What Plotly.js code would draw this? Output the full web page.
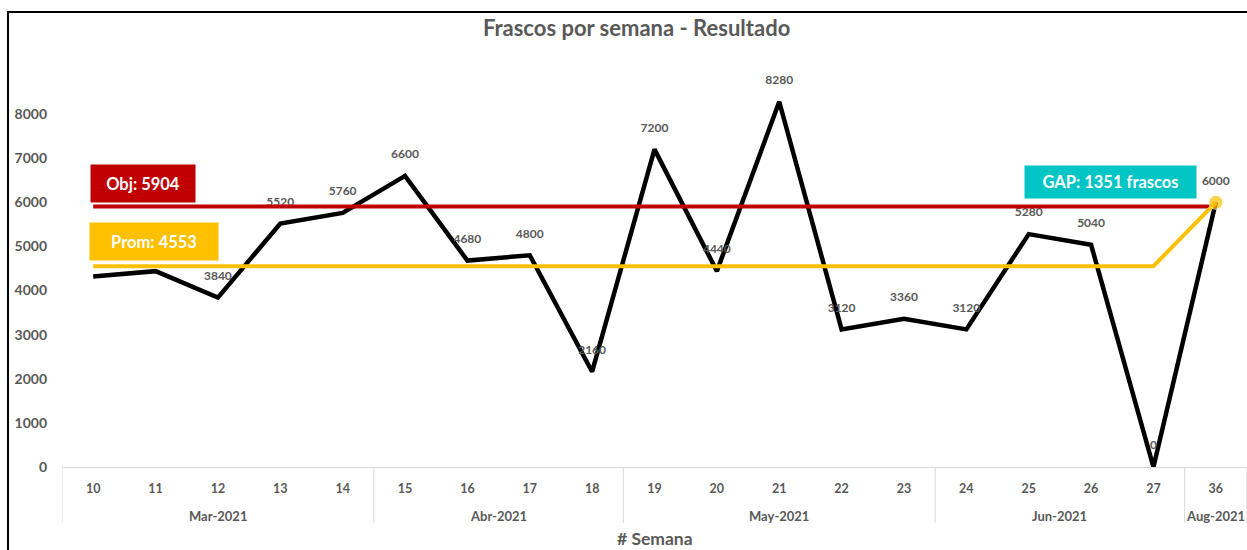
<!DOCTYPE html>
<html>
<head>
<meta charset="utf-8">
<script src="https://cdn.plot.ly/plotly-3.0.1.min.js"></script>
<style>
html,body{margin:0;padding:0;background:#fff;}
#chart{position:absolute;left:0;top:0;width:1247px;height:550px;}
#frame{position:absolute;left:7px;top:11px;width:1300px;height:600px;border-left:2px solid #000;border-top:2px solid #000;pointer-events:none;}
</style>
</head>
<body>
<div id="chart"></div>
<div id="frame"></div>
<script>
// ---- data ----
const months = ["Mar-2021","Mar-2021","Mar-2021","Mar-2021","Mar-2021",
                "Abr-2021","Abr-2021","Abr-2021","Abr-2021",
                "May-2021","May-2021","May-2021","May-2021","May-2021",
                "Jun-2021","Jun-2021","Jun-2021","Jun-2021",
                "Aug-2021"];
const weeks = ["10","11","12","13","14","15","16","17","18","19","20","21","22","23","24","25","26","27","36"];
const frascos = [4320,4440,3840,5520,5760,6600,4680,4800,2160,7200,4440,8280,3120,3360,3120,5280,5040,0,6000];
const showLabel = [false,false,true,true,true,true,true,true,true,true,true,true,true,true,true,true,true,true,true];
const objetivo = 5904;
const promedio = 4553;
const gapFinal = 6000;
const objText = "Obj: 5904";
const promText = "Prom: 4553";
const gapText = "GAP: 1351 frascos";

const FONT = "Lato, 'Noto Sans', sans-serif";
const GRAY = "#595959";
const LIGHT = "#D9D9D9";

const objVals = weeks.map(() => objetivo);
const promVals = weeks.map((w, i) => i === weeks.length - 1 ? gapFinal : promedio);
const promMarker = weeks.map((w, i) => i === weeks.length - 1 ? 14 : 0);

const traces = [
  {
    type: "scatter", mode: "lines+markers+text",
    x: weeks, y: frascos,
    text: frascos.map((v, i) => showLabel[i] ? String(v) : ""),
    textposition: "top center",
    textfont: {family: FONT, size: 12, color: GRAY, weight: "bold"},
    line: {color: "#000000", width: 4.5},
    marker: {size: 22, color: "rgba(0,0,0,0)"},
    cliponaxis: false, hoverinfo: "skip", showlegend: false
  },
  {
    type: "scatter", mode: "lines",
    x: weeks, y: objVals,
    line: {color: "#C00000", width: 4},
    cliponaxis: false, hoverinfo: "skip", showlegend: false
  },
  {
    type: "scatter", mode: "lines+markers",
    x: weeks, y: promVals,
    line: {color: "#FFC000", width: 4},
    marker: {size: promMarker, color: "#FFC000"},
    cliponaxis: false, hoverinfo: "skip", showlegend: false
  }
];

// month groups (from months array)
const groups = [];
months.forEach((m, i) => {
  if (groups.length && groups[groups.length - 1].name === m) groups[groups.length - 1].end = i;
  else groups.push({name: m, start: i, end: i});
});

const plotTop = 70, plotBottom = 467, plotLeft = 62, plotW = 1185;
const px = v => (v - plotLeft) / plotW;
const py = v => (plotBottom - v) / (plotBottom - plotTop);

const shapes = [];
const annotations = [];
groups.forEach(g => {
  annotations.push({
    text: g.name, xref: "x", yref: "paper", x: (g.start + g.end) / 2, y: py(516),
    xanchor: "center", yanchor: "middle", showarrow: false,
    font: {family: FONT, size: 13, color: GRAY, weight: "bold"}
  });
});
const bounds = [groups[0].start - 0.5].concat(groups.map(g => g.end + 0.5));
bounds.forEach(b => {
  shapes.push({type: "line", xref: "x", yref: "paper", x0: b, x1: b, y0: 0, y1: py(523),
               line: {color: LIGHT, width: 1}});
});

const boxFont = {family: FONT, size: 16.5, color: "#ffffff", weight: "bold"};
annotations.push(
  {text: objText, xref: "paper", yref: "paper", x: px(90), y: py(164), xanchor: "left", yanchor: "top",
   showarrow: false, bgcolor: "#C00000", width: 104, height: 37, borderpad: 0, align: "center", font: boxFont},
  {text: promText, xref: "paper", yref: "paper", x: px(89), y: py(222), xanchor: "left", yanchor: "top",
   showarrow: false, bgcolor: "#FFC000", width: 128, height: 37, borderpad: 0, align: "center", font: boxFont},
  {text: gapText, xref: "paper", yref: "paper", x: px(1024), y: py(165), xanchor: "left", yanchor: "top",
   showarrow: false, bgcolor: "#00C5C5", width: 171, height: 32, borderpad: 0, align: "center", font: boxFont},
  {text: "# Semana", xref: "paper", yref: "paper", x: 0.5, y: py(538), xanchor: "center", yanchor: "middle",
   showarrow: false, font: {family: FONT, size: 17.5, color: GRAY, weight: "bold"}}
);

const layout = {
  width: 1247, height: 550,
  margin: {l: 62, r: 0, t: 70, b: 83},
  paper_bgcolor: "#ffffff", plot_bgcolor: "#ffffff",
  font: {family: FONT, color: GRAY},
  title: {
    text: "Frascos por semana - Resultado",
    font: {family: FONT, size: 22, color: GRAY, weight: "bold"},
    xref: "container", x: 0.5105, xanchor: "center",
    yref: "container", y: 1 - 28/550, yanchor: "middle"
  },
  xaxis: {
    type: "category", range: [-0.5, weeks.length - 0.5],
    showline: true, linecolor: LIGHT, linewidth: 1,
    showgrid: false, zeroline: false, ticks: "",
    ticklabelstandoff: 10,
    tickfont: {family: FONT, size: 12.5, color: GRAY, weight: "bold"}
  },
  yaxis: {
    range: [0, 9000], tickvals: [0,1000,2000,3000,4000,5000,6000,7000,8000],
    showgrid: false, zeroline: false, showline: false, ticks: "",
    tickfont: {family: FONT, size: 14, color: GRAY, weight: "bold"},
    ticklabelstandoff: 14
  },
  shapes: shapes,
  annotations: annotations
};

Plotly.newPlot("chart", traces, layout, {staticPlot: true, displayModeBar: false});
</script>
</body>
</html>
